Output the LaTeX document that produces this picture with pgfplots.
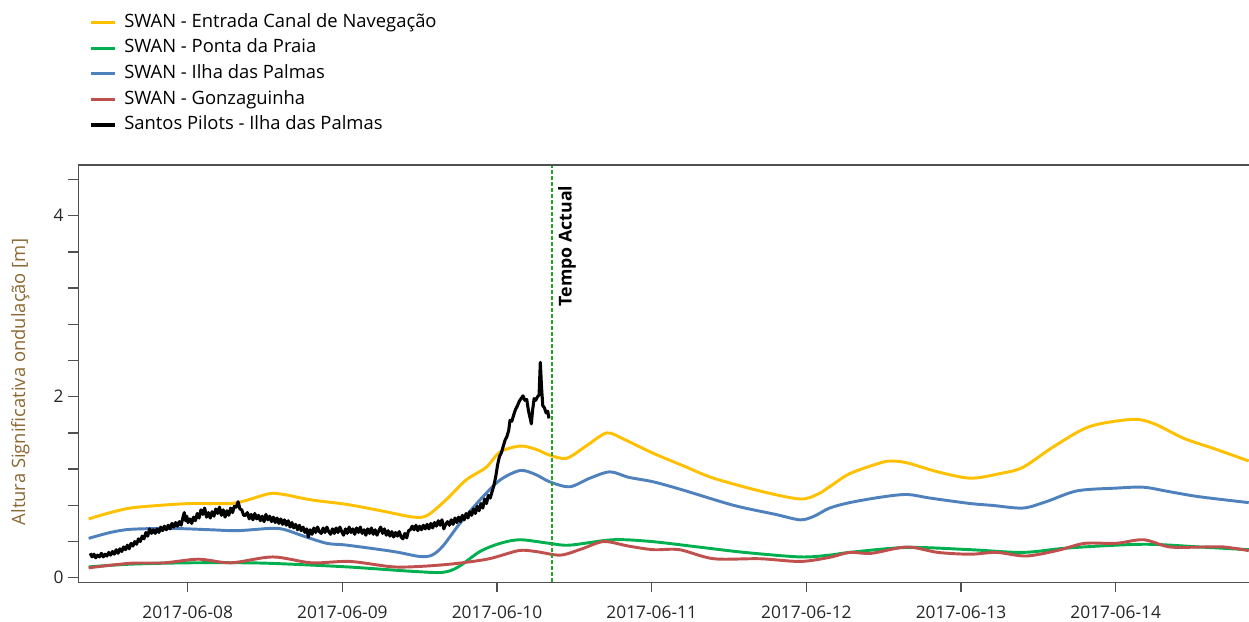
\documentclass[border=0pt]{standalone}
\usepackage{fontspec}
\setmainfont{Open Sans}
\usepackage{pgfplots}
\pgfplotsset{compat=1.18}
\definecolor{cyel}{RGB}{255,192,0}
\definecolor{cgrn}{RGB}{0,176,80}
\definecolor{cblu}{RGB}{79,129,189}
\definecolor{cred}{RGB}{192,80,77}
\definecolor{spine}{RGB}{80,80,80}
\definecolor{ylab}{RGB}{140,105,50}
\definecolor{dashg}{RGB}{40,165,40}
\begin{document}
\begin{tikzpicture}
\begin{axis}[
 name=ax, at={(0,0)}, anchor=south west,
 scale only axis, width=878pt, height=313pt,
 xmin=7.2928, xmax=14.8617, ymin=-0.051, ymax=4.56,
 axis x line*=bottom, axis y line*=left,
 axis line style={-, draw=spine, line width=1pt},
 tick align=outside,
 major tick length=7.5pt, minor tick length=7.5pt,
 tick style={draw=spine, line width=1pt},
 xtick={8,...,14},
 xticklabels={2017-06-08,2017-06-09,2017-06-10,2017-06-11,2017-06-12,2017-06-13,2017-06-14},
 ytick={0,2,4},
 minor ytick={0.4,0.8,1.2,1.6,2.4,2.8,3.2,3.6,4.4},
 /pgf/number format/assume math mode=true,
 tick label style={font=\fontsize{13}{15}\selectfont, text=black!85},
 xticklabel style={yshift=-6.5pt},
 ylabel={Altura Significativa ondulação [m]},
 every axis y label/.style={at={(rel axis cs:0,0.48)}, xshift=-43.5pt, rotate=90, anchor=center, font=\fontsize{13.8}{15}\selectfont, text=ylab},
 legend style={at={(rel axis cs:0,1)}, anchor=north west, xshift=5.5pt, yshift=116pt, draw=none, fill=none,
   font=\fontsize{13.8}{15}\selectfont, nodes={inner sep=1pt, text height=9.5pt, text depth=2.5pt}, row sep=5.2pt},
 legend cell align=left,
 legend image code/.code={\draw[#1] (0pt,0pt) -- (18pt,0pt); \path (22.5pt,0pt);},
]
\addplot[cyel, line width=2.2pt, smooth] coordinates {
(7.36,0.65) (7.50,0.72) (7.63,0.77) (7.82,0.80) (8.02,0.82) (8.27,0.82) (8.37,0.85) (8.53,0.93) (8.62,0.92) (8.80,0.86) (9.03,0.81) (9.25,0.74) (9.46,0.67) (9.55,0.69) (9.67,0.86) (9.80,1.08) (9.93,1.22) (10.02,1.39) (10.15,1.455) (10.25,1.42) (10.34,1.355) (10.45,1.32) (10.58,1.46) (10.71,1.60) (10.82,1.53) (11.01,1.375) (11.20,1.24) (11.40,1.10) (11.72,0.95) (11.96,0.87) (12.07,0.92) (12.15,1.005) (12.28,1.15) (12.48,1.27) (12.55,1.29) (12.65,1.27) (12.85,1.17) (13.06,1.10) (13.25,1.15) (13.40,1.22) (13.60,1.45) (13.83,1.67) (14.11,1.75) (14.25,1.70) (14.44,1.54) (14.63,1.43) (14.86,1.29)};
\addlegendentry{SWAN - Entrada Canal de Navegação}
\addplot[cgrn, line width=2.2pt, smooth] coordinates {
(7.36,0.12) (7.63,0.15) (8.00,0.165) (8.38,0.165) (8.60,0.155) (9.03,0.12) (9.46,0.07) (9.65,0.06) (9.75,0.12) (9.89,0.29) (10.02,0.38) (10.15,0.42) (10.34,0.38) (10.47,0.36) (10.75,0.42) (11.00,0.40) (11.30,0.34) (11.60,0.28) (11.96,0.23) (12.15,0.25) (12.28,0.28) (12.65,0.335) (13.06,0.31) (13.40,0.28) (13.70,0.33) (14.18,0.37) (14.54,0.34) (14.86,0.31)};
\addlegendentry{SWAN - Ponta da Praia}
\addplot[cblu, line width=2.2pt, smooth] coordinates {
(7.36,0.435) (7.50,0.50) (7.63,0.535) (7.89,0.545) (8.15,0.53) (8.32,0.52) (8.53,0.545) (8.62,0.535) (8.75,0.46) (8.90,0.38) (9.03,0.36) (9.33,0.29) (9.50,0.235) (9.58,0.25) (9.65,0.35) (9.76,0.60) (9.89,0.86) (10.02,1.08) (10.15,1.185) (10.25,1.14) (10.34,1.06) (10.47,1.005) (10.60,1.10) (10.73,1.17) (10.85,1.11) (11.01,1.06) (11.20,0.97) (11.53,0.80) (11.80,0.70) (11.96,0.64) (12.05,0.68) (12.15,0.77) (12.28,0.83) (12.48,0.89) (12.65,0.92) (12.80,0.88) (13.06,0.82) (13.20,0.80) (13.40,0.77) (13.55,0.84) (13.75,0.96) (14.00,0.99) (14.18,1.00) (14.35,0.95) (14.54,0.895) (14.86,0.83)};
\addlegendentry{SWAN - Ilha das Palmas}
\addplot[cred, line width=2.2pt, smooth] coordinates {
(7.36,0.11) (7.63,0.16) (7.85,0.165) (8.07,0.205) (8.28,0.165) (8.55,0.23) (8.80,0.165) (9.05,0.18) (9.33,0.12) (9.55,0.13) (9.75,0.16) (9.95,0.21) (10.14,0.30) (10.25,0.29) (10.41,0.25) (10.55,0.32) (10.69,0.40) (10.85,0.35) (11.01,0.31) (11.18,0.31) (11.40,0.21) (11.70,0.21) (11.96,0.18) (12.15,0.225) (12.28,0.28) (12.42,0.27) (12.65,0.34) (12.85,0.28) (13.06,0.26) (13.23,0.28) (13.42,0.24) (13.62,0.30) (13.80,0.38) (14.00,0.38) (14.18,0.42) (14.35,0.34) (14.57,0.34) (14.70,0.34) (14.86,0.30)};
\addlegendentry{SWAN - Gonzaguinha}
\addplot[black, line width=2.3pt, line join=round] coordinates {
(7.370,0.27) (7.382,0.23) (7.394,0.26) (7.406,0.22) (7.418,0.25) (7.430,0.23) (7.442,0.27) (7.454,0.23) (7.466,0.26) (7.478,0.24) (7.490,0.28) (7.502,0.25) (7.514,0.29) (7.526,0.26) (7.538,0.31) (7.550,0.27) (7.562,0.32) (7.574,0.29) (7.586,0.34) (7.598,0.31) (7.610,0.36) (7.622,0.32) (7.634,0.38) (7.646,0.35) (7.658,0.40) (7.670,0.37) (7.682,0.43) (7.694,0.40) (7.706,0.46) (7.718,0.43) (7.730,0.50) (7.742,0.46) (7.754,0.54) (7.766,0.49) (7.778,0.53) (7.790,0.49) (7.802,0.54) (7.814,0.50) (7.826,0.56) (7.838,0.52) (7.850,0.57) (7.862,0.53) (7.874,0.58) (7.886,0.54) (7.898,0.60) (7.910,0.56) (7.922,0.61) (7.934,0.57) (7.946,0.62) (7.958,0.58) (7.970,0.67) (7.978,0.72) (7.986,0.63) (7.994,0.68) (8.002,0.61) (8.014,0.65) (8.026,0.60) (8.038,0.67) (8.050,0.63) (8.062,0.71) (8.074,0.66) (8.086,0.75) (8.098,0.70) (8.110,0.77) (8.122,0.67) (8.134,0.72) (8.146,0.66) (8.158,0.73) (8.170,0.68) (8.182,0.76) (8.194,0.71) (8.206,0.78) (8.218,0.69) (8.230,0.75) (8.242,0.67) (8.254,0.74) (8.266,0.69) (8.278,0.77) (8.290,0.72) (8.302,0.79) (8.314,0.78) (8.326,0.84) (8.338,0.76) (8.350,0.75) (8.362,0.69) (8.374,0.69) (8.386,0.72) (8.398,0.65) (8.410,0.70) (8.422,0.64) (8.434,0.71) (8.446,0.65) (8.458,0.69) (8.470,0.63) (8.482,0.68) (8.494,0.62) (8.506,0.70) (8.518,0.64) (8.530,0.68) (8.542,0.62) (8.554,0.67) (8.566,0.61) (8.578,0.66) (8.590,0.60) (8.602,0.65) (8.614,0.59) (8.626,0.64) (8.638,0.58) (8.650,0.63) (8.662,0.56) (8.674,0.61) (8.686,0.55) (8.698,0.59) (8.710,0.53) (8.722,0.58) (8.734,0.52) (8.746,0.56) (8.758,0.50) (8.770,0.54) (8.780,0.45) (8.792,0.53) (8.804,0.48) (8.816,0.55) (8.828,0.50) (8.840,0.56) (8.852,0.51) (8.864,0.49) (8.876,0.55) (8.888,0.50) (8.900,0.56) (8.912,0.51) (8.924,0.48) (8.936,0.54) (8.948,0.49) (8.960,0.55) (8.972,0.50) (8.984,0.56) (8.996,0.51) (9.008,0.47) (9.020,0.54) (9.032,0.49) (9.044,0.56) (9.056,0.50) (9.068,0.54) (9.080,0.48) (9.092,0.55) (9.104,0.50) (9.116,0.56) (9.128,0.49) (9.140,0.53) (9.152,0.47) (9.164,0.54) (9.176,0.49) (9.188,0.55) (9.200,0.48) (9.212,0.53) (9.224,0.47) (9.236,0.52) (9.248,0.56) (9.260,0.49) (9.272,0.54) (9.284,0.47) (9.296,0.52) (9.308,0.46) (9.320,0.51) (9.332,0.45) (9.344,0.50) (9.356,0.46) (9.368,0.51) (9.380,0.45) (9.392,0.43) (9.404,0.49) (9.416,0.44) (9.428,0.52) (9.440,0.53) (9.452,0.57) (9.464,0.53) (9.476,0.58) (9.488,0.52) (9.500,0.57) (9.512,0.53) (9.524,0.58) (9.536,0.54) (9.548,0.59) (9.560,0.54) (9.572,0.60) (9.584,0.55) (9.596,0.61) (9.608,0.57) (9.620,0.63) (9.632,0.58) (9.644,0.64) (9.656,0.54) (9.668,0.59) (9.680,0.62) (9.692,0.58) (9.704,0.64) (9.716,0.59) (9.728,0.66) (9.740,0.61) (9.752,0.67) (9.764,0.62) (9.776,0.69) (9.788,0.64) (9.800,0.71) (9.812,0.66) (9.824,0.73) (9.836,0.69) (9.848,0.76) (9.860,0.71) (9.872,0.79) (9.884,0.74) (9.896,0.82) (9.908,0.77) (9.920,0.87) (9.932,0.82) (9.944,0.91) (9.956,0.88) (9.968,0.95) (9.980,1.02) (9.992,1.12) (10.004,1.25) (10.016,1.34) (10.028,1.38) (10.040,1.45) (10.052,1.52) (10.064,1.56) (10.076,1.63) (10.084,1.74) (10.096,1.73) (10.108,1.80) (10.120,1.86) (10.132,1.90) (10.144,1.95) (10.156,1.98) (10.168,2.01) (10.180,1.96) (10.192,1.97) (10.204,1.84) (10.216,1.75) (10.222,1.70) (10.230,1.85) (10.240,1.98) (10.250,1.96) (10.262,2.00) (10.272,2.02) (10.280,2.38) (10.288,2.10) (10.296,1.90) (10.306,1.88) (10.318,1.82) (10.328,1.84) (10.336,1.76)};
\addlegendentry{Santos Pilots - Ilha das Palmas}
\addplot[draw=dashg, line width=1.1pt, dash pattern=on 3pt off 1.5pt, forget plot] coordinates {(10.354,-0.051) (10.354,4.56)};
\node[rotate=90, anchor=north east, font=\bfseries\fontsize{13.3}{15}\selectfont, inner sep=1pt] at (axis cs:10.385,4.35) {Tempo Actual};
\end{axis}
\draw[spine, line width=1pt] (ax.north west) -- (ax.north east);
\pgfresetboundingbox
\path[use as bounding box] (-58.7pt,-29pt) rectangle (878pt,436.75pt);
\end{tikzpicture}
\end{document}
